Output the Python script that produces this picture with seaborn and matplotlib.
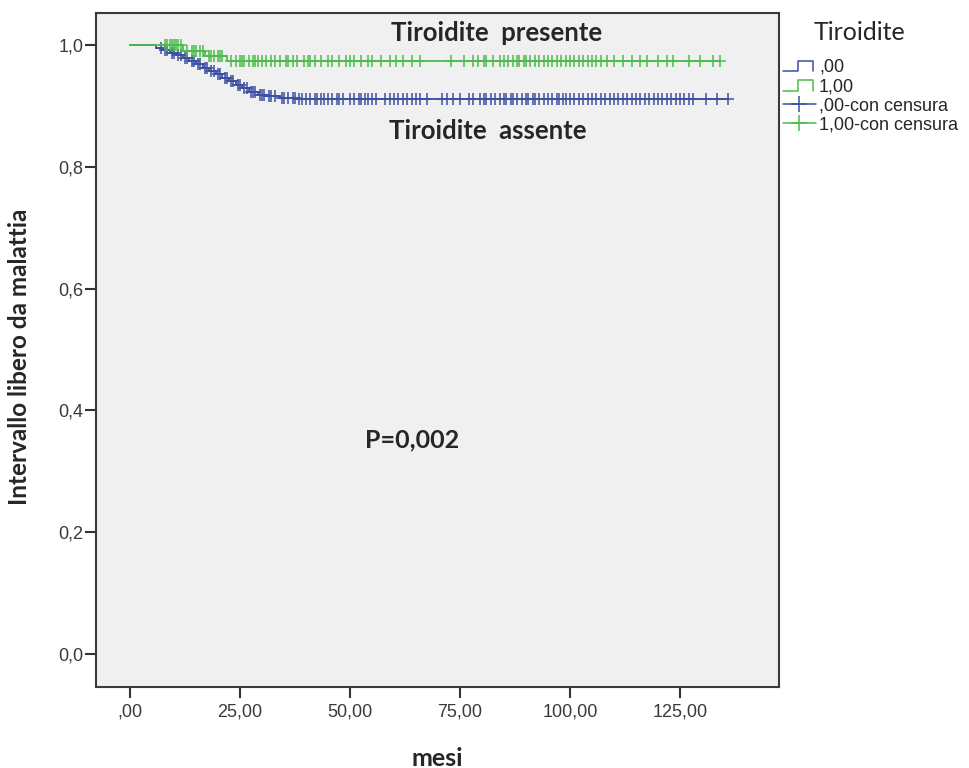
import numpy as np
import matplotlib
matplotlib.use("Agg")
import matplotlib.pyplot as plt
import seaborn as sns
from matplotlib.lines import Line2D
from matplotlib.legend_handler import HandlerBase

# curva Kaplan-Meier: Tiroidite assente (,00)
tempi_00 = [0, 6, 7.5, 9, 10.5, 12, 13.5, 15, 16.5, 18, 19.5, 21, 22.5, 24, 25.5, 27, 29, 31, 34, 38, 70, 136]
surv_00 = [1.0, 0.996, 0.992, 0.988, 0.984, 0.979, 0.974, 0.969, 0.963, 0.958, 0.952, 0.947, 0.941,
           0.935, 0.929, 0.924, 0.919, 0.916, 0.914, 0.912, 0.911, 0.911]
cens_00 = [7, 8, 8.5, 9.5, 10, 11, 11.5, 12.5, 13, 14, 14.5, 15.5, 16, 17, 17.5, 18.5, 19, 20, 20.5,
           21.5, 22, 23, 23.5, 24.5, 25, 26, 26.5, 27.5, 28, 28.5, 29.5, 30, 30.5, 31.5, 32, 33,
           34.5, 35, 36, 37, 37.5, 38.5, 39, 40, 41, 42, 42.5, 43.5, 44, 45, 46, 47, 47.5, 48.5,
           50, 51, 52, 52.5, 53.5, 54, 55, 56, 58, 59, 60, 61, 62, 63, 64, 65, 66, 67.5, 71, 72,
           73.5, 75, 77, 78, 79.5, 80.5, 81, 82, 83, 84, 85, 85.5, 86.5, 87, 88, 89, 90, 90.5,
           91.5, 92, 93, 94, 95, 96, 97, 97.5, 98.5, 99, 100, 101, 102, 103, 104, 105, 106, 107,
           108, 109, 110, 111, 112, 113, 114, 115, 116, 117, 118, 119, 120, 121, 122, 123, 124,
           125, 126, 127, 128, 131, 133.5, 136]

# curva Kaplan-Meier: Tiroidite presente (1,00)
tempi_10 = [0, 12, 17, 22, 134]
surv_10 = [1.0, 0.991, 0.983, 0.974, 0.974]
cens_10 = [8, 8.5, 9, 9.5, 10, 10.5, 11, 11.5, 13, 14, 14.5, 15, 16, 16.5, 18, 18.5, 19, 20, 20.5,
           21, 23, 24, 25, 25.5, 26, 27, 28, 28.5, 29, 30, 31, 32, 33, 34, 35.5, 36, 37, 38,
           39.5, 40.5, 41, 42, 43.5, 45, 46, 47.5, 49, 50, 51, 52.5, 54, 55, 57, 59, 60.5, 62,
           64, 66, 73, 76, 78, 79, 80.5, 81, 82.5, 84, 85, 86, 87, 88, 88.5, 89.5, 90, 91, 92,
           93, 94, 95, 96, 97, 98, 99, 100, 101, 102, 103, 104, 105, 106, 107, 108.5, 110, 112,
           114, 116, 117.5, 120, 122, 123.5, 127, 129.5, 132.5, 134]

blu = "#3c4fa3"
verde = "#4cbc4c"

sns.set_style("white")
plt.rcParams["font.family"] = ["Liberation Sans", "DejaVu Sans"]
bold_font = ["Lato", "DejaVu Sans"]

fig = plt.figure(figsize=(9.69, 7.68), dpi=100)
ax = fig.add_axes([96 / 969, 81 / 768, 683 / 969, 674 / 768])
ax.set_facecolor("#f0f0f0")


def surv_at(tempi, surv, t):
    i = np.searchsorted(tempi, t, side="right") - 1
    return surv[i]


for tempi, surv, cens, col in [(tempi_00, surv_00, cens_00, blu), (tempi_10, surv_10, cens_10, verde)]:
    sns.lineplot(x=tempi, y=surv, ax=ax, color=col, drawstyle="steps-post", linewidth=1.3,
                 estimator=None, sort=False)
    y_cens = [surv_at(tempi, surv, t) for t in cens]
    ax.plot(cens, y_cens, linestyle="none", marker="+", markersize=8, markeredgewidth=1.1, color=col)

ax.set_xlim(-7.73, 147.5)
ax.set_ylim(-0.0549, 1.0531)
ax.set_xticks([0, 25, 50, 75, 100, 125])
ax.set_xticklabels([",00", "25,00", "50,00", "75,00", "100,00", "125,00"])
ax.set_yticks([0, 0.2, 0.4, 0.6, 0.8, 1.0])
ax.set_yticklabels(["0,0", "0,2", "0,4", "0,6", "0,8", "1,0"])
ax.tick_params(axis="both", bottom=True, left=True, direction="out", length=8, width=1.5,
               color="#333333", labelsize=13, labelcolor="#3a3a3a")
ax.tick_params(axis="x", pad=4)
ax.tick_params(axis="y", pad=1)
for s in ax.spines.values():
    s.set_color("#3a3a3a")
    s.set_linewidth(1.5)

ax.set_xlabel("mesi", fontsize=18, fontweight="bold", family=bold_font, va="center")
ax.xaxis.set_label_coords((437 - 96) / 683, (687 - 758) / 674)
ax.set_ylabel("Intervallo libero da malattia", fontsize=17.5, fontweight="bold", family=bold_font,
              va="center")
ax.yaxis.set_label_coords((19.5 - 96) / 683, 0.49)

ax.text(83.4, 1.020, "Tiroidite  presente", fontsize=18.5, fontweight="bold", ha="center",
        va="center", family=bold_font)
ax.text(81.4, 0.859, "Tiroidite  assente", fontsize=18.5, fontweight="bold", ha="center",
        va="center", family=bold_font)
ax.text(64.1, 0.351, "P=0,002", fontsize=18, fontweight="bold", ha="center", va="center",
        family=bold_font)


class StepHandler(HandlerBase):
    def create_artists(self, legend, orig_handle, xdescent, ydescent, width, height, fontsize, trans):
        x0 = -xdescent
        lo = -ydescent + height * 0.05
        hi = -ydescent + height * 0.85
        xs = [x0, x0 + 0.45 * width, x0 + 0.45 * width, x0 + 0.92 * width, x0 + 0.92 * width]
        ys = [lo, lo, hi, hi, lo]
        return [Line2D(xs, ys, color=orig_handle.get_color(), linewidth=1.1, transform=trans)]


h_00 = Line2D([], [], color=blu)
h_10 = Line2D([], [], color=verde)
h_c00 = Line2D([], [], color=blu, linewidth=1.1, marker="+", markersize=12, markeredgewidth=1.1)
h_c10 = Line2D([], [], color=verde, linewidth=1.1, marker="+", markersize=12, markeredgewidth=1.1)

fig.text(860 / 969, 1 - 33 / 768, "Tiroidite", fontsize=18, ha="center", va="center",
         family=bold_font)
fig.legend([h_00, h_10, h_c00, h_c10], [",00", "1,00", ",00-con censura", "1,00-con censura"],
           handler_map={h_00: StepHandler(), h_10: StepHandler()},
           loc="upper left", bbox_to_anchor=(783 / 969, 1 - 59 / 768), frameon=False,
           fontsize=13, handlelength=1.8, handletextpad=0.2, labelspacing=0.12,
           borderpad=0, borderaxespad=0)

fig.savefig("out.png", dpi=100, facecolor="white")
